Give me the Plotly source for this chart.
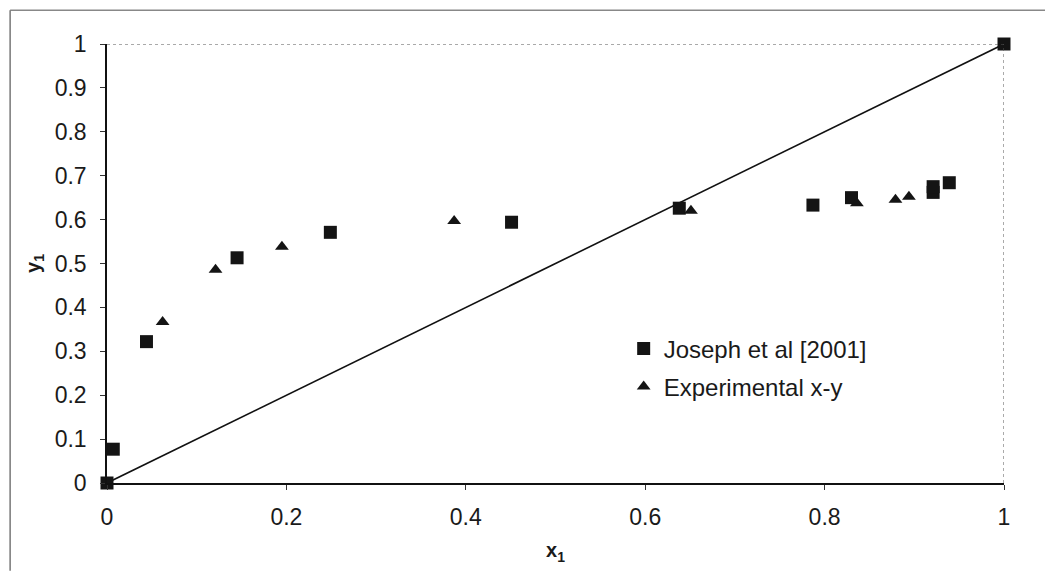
import plotly.graph_objects as go

# Joseph et al [2001] (squares)
joseph_x = [0.0, 0.007, 0.044, 0.145, 0.249, 0.451, 0.638, 0.787, 0.830, 0.921, 0.921, 0.939, 1.0]
joseph_y = [0.0, 0.077, 0.322, 0.513, 0.571, 0.594, 0.626, 0.633, 0.650, 0.662, 0.675, 0.684, 1.0]

# Experimental x-y (triangles)
exp_x = [0.062, 0.121, 0.195, 0.387, 0.651, 0.836, 0.879, 0.894]
exp_y = [0.367, 0.486, 0.538, 0.597, 0.620, 0.637, 0.645, 0.652]

# diagonal x = y
diag_x = [0.0, 1.0]
diag_y = [0.0, 1.0]

x_ticks = [0, 0.2, 0.4, 0.6, 0.8, 1]
y_ticks = [0, 0.1, 0.2, 0.3, 0.4, 0.5, 0.6, 0.7, 0.8, 0.9, 1]

FONT = "Arial, Liberation Sans, sans-serif"

fig = go.Figure()
fig.add_trace(go.Scatter(x=diag_x, y=diag_y, mode="lines",
                         line=dict(color="#111111", width=1.6),
                         showlegend=False, hoverinfo="skip", cliponaxis=False))
fig.add_trace(go.Scatter(x=joseph_x, y=joseph_y, mode="markers", name="Joseph et al [2001]",
                         legendgroup="a",
                         marker=dict(symbol="square", size=13, color="#141414"),
                         cliponaxis=False))
fig.add_trace(go.Scatter(x=exp_x, y=exp_y, mode="markers", name="Experimental x-y",
                         legendgroup="b",
                         marker=dict(symbol="triangle-up", size=12, color="#141414"),
                         cliponaxis=False))

# plot-area border (dotted top / right)
fig.add_shape(type="line", xref="x", yref="y", x0=0, x1=1, y0=1, y1=1,
              line=dict(color="#555555", width=1, dash="dot"))
fig.add_shape(type="line", xref="x", yref="y", x0=1, x1=1, y0=0, y1=1,
              line=dict(color="#555555", width=1, dash="dot"))
# chart-area frame lines (scan border)
fig.add_shape(type="line", xref="paper", yref="paper", x0=-0.108, x1=1.06, y0=1.077, y1=1.077,
              line=dict(color="#888888", width=1.5))
fig.add_shape(type="line", xref="paper", yref="paper", x0=-0.108, x1=-0.108, y0=-0.2, y1=1.077,
              line=dict(color="#777777", width=1.5))

fig.update_layout(
    width=1045, height=563,
    margin=dict(l=99, r=49, t=36, b=88),
    paper_bgcolor="white", plot_bgcolor="white",
    font=dict(family=FONT, size=23, color="#1a1a1a"),
    showlegend=True,
    legend=dict(x=0.576, y=0.357, xanchor="left", yanchor="top",
                bgcolor="rgba(0,0,0,0)", font=dict(size=24, family=FONT),
                tracegroupgap=4, traceorder="grouped", itemwidth=30),
    xaxis=dict(range=[0, 1], tickvals=x_ticks, ticktext=[f"{v:g}" for v in x_ticks],
               showgrid=False, zeroline=False, showline=True, linecolor="#111111", linewidth=1.5,
               ticks="outside", ticklen=5, tickcolor="#333333", ticklabelstandoff=8,
               title=dict(text="<b>x<sub>1</sub></b>", font=dict(size=20), standoff=14)),
    yaxis=dict(range=[0, 1], tickvals=y_ticks, ticktext=[f"{v:g}" for v in y_ticks],
               showgrid=False, zeroline=False, showline=True, linecolor="#111111", linewidth=1.5,
               ticks="outside", ticklen=5, tickcolor="#333333", ticklabelstandoff=9,
               title=dict(text="<b>y<sub>1</sub></b>", font=dict(size=20), standoff=9)),
)

fig.write_html("out.html")
